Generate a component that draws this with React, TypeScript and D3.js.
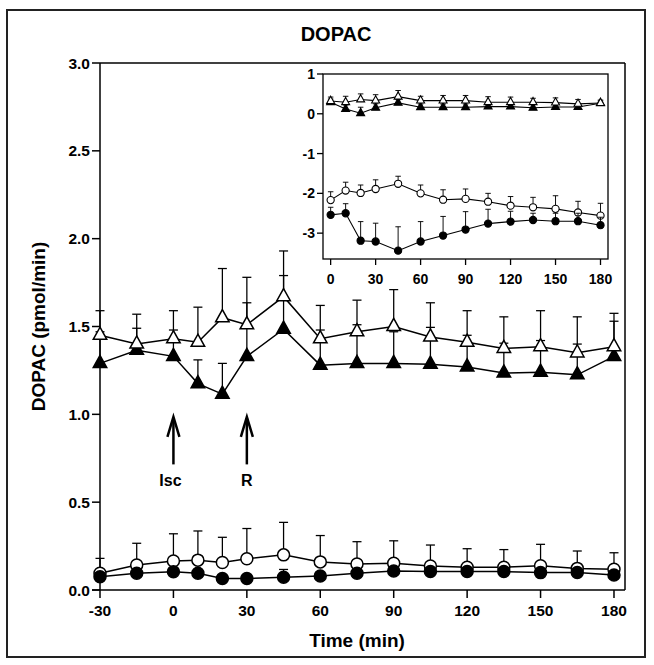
import React from "react";
import * as d3 from "d3";

// ---- Main chart data ----
const mainTime = [-30, -15, 0, 10, 20, 30, 45, 60, 75, 90, 105, 120, 135, 150, 165, 180];
const openTri = [1.45, 1.4, 1.43, 1.41, 1.55, 1.51, 1.67, 1.43, 1.47, 1.5, 1.44, 1.41, 1.375, 1.385, 1.35, 1.385];
const openTriErr = [0.14, 0.17, 0.16, 0.2, 0.28, 0.27, 0.26, 0.19, 0.18, 0.21, 0.195, 0.18, 0.18, 0.205, 0.205, 0.19];
const filledTri = [1.29, 1.365, 1.33, 1.175, 1.115, 1.33, 1.485, 1.28, 1.29, 1.29, 1.285, 1.27, 1.235, 1.24, 1.225, 1.33];
const filledTriErr = [0.18, 0.125, 0.15, 0.135, 0.175, 0.305, 0.305, 0.2, 0.22, 0.18, 0.21, 0.18, 0.17, 0.18, 0.175, 0.2];
const openCirc = [0.095, 0.142, 0.165, 0.17, 0.157, 0.178, 0.2, 0.16, 0.148, 0.152, 0.137, 0.13, 0.13, 0.138, 0.123, 0.118];
const openCircErr = [0.085, 0.124, 0.155, 0.166, 0.143, 0.172, 0.185, 0.15, 0.127, 0.128, 0.119, 0.105, 0.1, 0.122, 0.099, 0.094];
const filledCirc = [0.076, 0.095, 0.104, 0.095, 0.066, 0.066, 0.072, 0.08, 0.095, 0.108, 0.105, 0.105, 0.105, 0.099, 0.1, 0.085];
const filledCircErr = [0.02, 0.02, 0.02, 0.02, 0.02, 0.02, 0.045, 0.02, 0.02, 0.02, 0.02, 0.02, 0.02, 0.02, 0.02, 0.02];
const mainXTicks = [-30, 0, 30, 60, 90, 120, 150, 180];
const mainYTicks = [0, 0.5, 1, 1.5, 2, 2.5, 3];
const arrows = [
  { label: "Isc", time: 0 },
  { label: "R", time: 30 },
];

// ---- Inset data ----
const insetTime = [0, 10, 20, 30, 45, 60, 75, 90, 105, 120, 135, 150, 165, 180];
const insOpenTri = [0.32, 0.29, 0.36, 0.33, 0.43, 0.33, 0.33, 0.33, 0.29, 0.29, 0.29, 0.28, 0.25, 0.27];
const insOpenTriErr = [0.1, 0.15, 0.14, 0.15, 0.155, 0.11, 0.13, 0.13, 0.14, 0.13, 0.1, 0.12, 0.11, 0.05];
const insFilledTri = [0.29, 0.12, 0.015, 0.15, 0.275, 0.165, 0.165, 0.165, 0.18, 0.18, 0.15, 0.17, 0.17, 0.265];
const insFilledTriErr = [0.08, 0.1, 0.15, 0.1, 0.08, 0.08, 0.08, 0.08, 0.08, 0.08, 0.08, 0.08, 0.08, 0.08];
const insOpenCirc = [-2.17, -1.93, -1.99, -1.89, -1.76, -2.0, -2.16, -2.14, -2.21, -2.31, -2.35, -2.39, -2.48, -2.56];
const insOpenCircErr = [0.21, 0.21, 0.2, 0.23, 0.19, 0.21, 0.25, 0.25, 0.21, 0.23, 0.25, 0.33, 0.28, 0.31];
const insFilledCirc = [-2.54, -2.5, -3.19, -3.21, -3.44, -3.21, -3.06, -2.91, -2.76, -2.71, -2.67, -2.7, -2.7, -2.8];
const insFilledCircErr = [0.19, 0.24, 0.48, 0.46, 0.6, 0.5, 0.48, 0.45, 0.36, 0.26, 0.17, 0.2, 0.2, 0.2];
const insetXTicks = [0, 30, 60, 90, 120, 150, 180];
const insetYTicks = [1, 0, -1, -2, -3];

const FONT = "'Liberation Sans', Arial, Helvetica, sans-serif";

type SeriesProps = {
  xs: number[];
  ys: number[];
  errs: number[];
  x: d3.ScaleLinear<number, number>;
  y: d3.ScaleLinear<number, number>;
  shape: "tri" | "circ";
  filled: boolean;
  size: number;
  cap: number;
  lw: number;
};

function Series({ xs, ys, errs, x, y, shape, filled, size, cap, lw }: SeriesProps) {
  const pts = xs.map((t, i) => [x(t), y(ys[i])] as [number, number]);
  const line = d3.line()(pts) || "";
  return (
    <g>
      {xs.map((t, i) => (
        <g key={"e" + i} stroke="#000" strokeWidth={lw * 0.85}>
          <line x1={x(t)} x2={x(t)} y1={y(ys[i])} y2={y(ys[i] + errs[i])} />
          <line x1={x(t) - cap / 2} x2={x(t) + cap / 2} y1={y(ys[i] + errs[i])} y2={y(ys[i] + errs[i])} />
        </g>
      ))}
      <path d={line} fill="none" stroke="#000" strokeWidth={lw} />
      {pts.map(([px, py], i) => {
        if (shape === "circ") {
          return (
            <circle key={i} cx={px} cy={py} r={size} fill={filled ? "#000" : "#fff"} stroke="#000" strokeWidth={lw} />
          );
        }
        const w = size;
        const h = size * 0.9;
        const d = `M${px},${py - (2 * h) / 3}L${px + w / 2},${py + h / 3}L${px - w / 2},${py + h / 3}Z`;
        return <path key={i} d={d} fill={filled ? "#000" : "#fff"} stroke="#000" strokeWidth={lw} strokeLinejoin="miter" />;
      })}
    </g>
  );
}

export default function App() {
  // main scales
  const x = d3.scaleLinear().domain([-30, 184.5]).range([100, 625]);
  const y = d3.scaleLinear().domain([0, 3]).range([590, 63]);
  // inset scales
  const ix = d3.scaleLinear().domain([-5.1, 185]).range([323, 608]);
  const iy = d3.scaleLinear().domain([-3.65, 1]).range([259, 74]);

  return (
    <svg
      width={654}
      height={665}
      style={{ position: "absolute", left: 0, top: 0, background: "#fff" }}
      fontFamily={FONT}
    >
      <rect x={0} y={0} width={654} height={665} fill="#fff" />
      <rect x={7} y={10} width={638} height={647} fill="none" stroke="#222" strokeWidth={2} />
      <text x={336} y={41} textAnchor="middle" fontSize={20} fontWeight="bold">DOPAC</text>

      {/* main frame */}
      <g stroke="#000" strokeWidth={1.5} fill="none">
        <line x1={x(-30)} x2={x(-30)} y1={y(3)} y2={y(0)} />
        <line x1={x(-30)} x2={625} y1={y(3)} y2={y(3)} />
        <line x1={625} x2={625} y1={y(3)} y2={y(0)} />
        <line x1={x(-30) - 8} x2={625} y1={y(0)} y2={y(0)} />
      </g>
      {mainYTicks.map((t) => (
        <g key={"yt" + t}>
          <line x1={x(-30) - 8} x2={x(-30)} y1={y(t)} y2={y(t)} stroke="#000" strokeWidth={1.5} />
          <text x={x(-30) - 10} y={y(t) + 5.5} textAnchor="end" fontSize={15.5} fontWeight="bold">
            {t.toFixed(1)}
          </text>
        </g>
      ))}
      {mainXTicks.map((t) => (
        <g key={"xt" + t}>
          <line x1={x(t)} x2={x(t)} y1={y(0)} y2={y(0) + 8} stroke="#000" strokeWidth={1.5} />
          <text x={x(t)} y={y(0) + 26} textAnchor="middle" fontSize={15.5} fontWeight="bold">
            {t}
          </text>
        </g>
      ))}
      <text x={357} y={647} textAnchor="middle" fontSize={19} fontWeight="bold">Time (min)</text>
      <text
        transform={`translate(45,${(y(0) + y(3)) / 2 + 0}) rotate(-90)`}
        textAnchor="middle"
        fontSize={19}
        fontWeight="bold"
      >
        DOPAC (pmol/min)
      </text>

      {/* arrows */}
      {arrows.map((a) => {
        const ax = x(a.time);
        const tip = y(0.985);
        const tail = y(0.715);
        return (
          <g key={a.label}>
            <line x1={ax} x2={ax} y1={tip + 1} y2={tail} stroke="#000" strokeWidth={2.5} />
            <path d={`M${ax - 6},${tip + 20}L${ax},${tip}L${ax + 6},${tip + 20}`} fill="none" stroke="#000" strokeWidth={2.5} />
            <text x={ax - (a.label === "Isc" ? 3 : 0)} y={y(0.59)} textAnchor="middle" fontSize={16} fontWeight="bold">
              {a.label}
            </text>
          </g>
        );
      })}

      {/* main series */}
      <Series xs={mainTime} ys={openCirc} errs={openCircErr} x={x} y={y} shape="circ" filled={false} size={6} cap={9} lw={1.5} />
      <Series xs={mainTime} ys={filledCirc} errs={filledCircErr} x={x} y={y} shape="circ" filled={true} size={6} cap={9} lw={1.5} />
      <Series xs={mainTime} ys={filledTri} errs={filledTriErr} x={x} y={y} shape="tri" filled={true} size={13.5} cap={9} lw={1.5} />
      <Series xs={mainTime} ys={openTri} errs={openTriErr} x={x} y={y} shape="tri" filled={false} size={13.5} cap={9} lw={1.5} />

      {/* inset */}
      <rect x={323} y={74} width={285} height={185} fill="#fff" stroke="#000" strokeWidth={1.3} />
      {insetYTicks.map((t) => (
        <g key={"iyt" + t}>
          <line x1={317} x2={323} y1={iy(t)} y2={iy(t)} stroke="#000" strokeWidth={1.3} />
          <text x={315} y={iy(t) + 5} textAnchor="end" fontSize={14} fontWeight="bold">
            {t}
          </text>
        </g>
      ))}
      {insetXTicks.map((t) => (
        <g key={"ixt" + t}>
          <line x1={ix(t)} x2={ix(t)} y1={259} y2={265} stroke="#000" strokeWidth={1.3} />
          <text x={ix(t)} y={284} textAnchor="middle" fontSize={14} fontWeight="bold">
            {t}
          </text>
        </g>
      ))}
      <Series xs={insetTime} ys={insOpenCirc} errs={insOpenCircErr} x={ix} y={iy} shape="circ" filled={false} size={3.6} cap={5.5} lw={1.1} />
      <Series xs={insetTime} ys={insFilledCirc} errs={insFilledCircErr} x={ix} y={iy} shape="circ" filled={true} size={3.6} cap={5.5} lw={1.1} />
      <Series xs={insetTime} ys={insFilledTri} errs={insFilledTriErr} x={ix} y={iy} shape="tri" filled={true} size={8} cap={5.5} lw={1.1} />
      <Series xs={insetTime} ys={insOpenTri} errs={insOpenTriErr} x={ix} y={iy} shape="tri" filled={false} size={8} cap={5.5} lw={1.1} />
    </svg>
  );
}
